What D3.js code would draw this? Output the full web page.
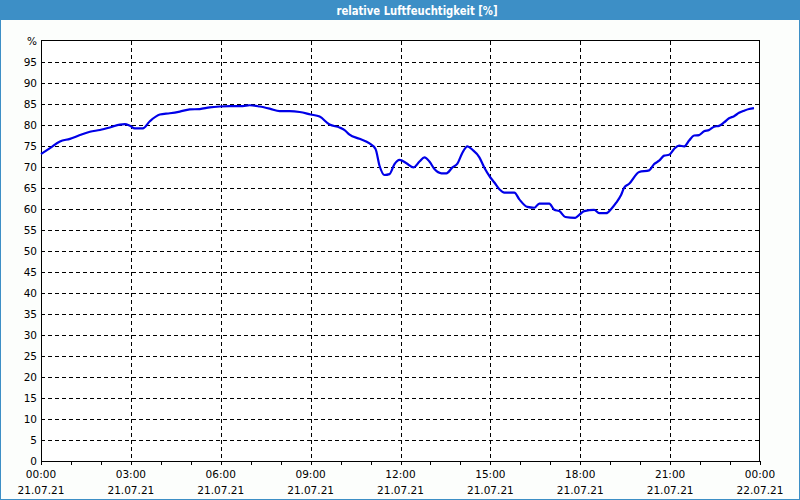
<!DOCTYPE html>
<html><head><meta charset="utf-8">
<script src="https://cdn.jsdelivr.net/npm/d3@7"></script>
<style>
html,body{margin:0;padding:0;background:#fff;}
svg{display:block;}
text{font-family:"DejaVu Sans",Verdana,sans-serif;}
</style></head>
<body><svg id="c" width="800" height="500"></svg>
<script>
const title = "relative Luftfeuchtigkeit [%]";
const times = ["00:00","00:18","00:38","00:58","01:18","01:38","01:58","02:18","02:38","02:48","02:58","03:08","03:24","03:38","03:58","04:18","04:38","04:58","05:18","05:38","05:58","06:18","06:44","06:58","07:18","07:38","07:58","08:18","08:38","09:00","09:18","09:38","09:58","10:08","10:18","10:38","10:58","11:10","11:18","11:28","11:38","11:48","11:58","12:12","12:26","12:38","12:48","12:58","13:08","13:22","13:32","13:44","13:54","14:04","14:14","14:24","14:38","14:48","15:00","15:08","15:18","15:28","15:48","15:58","16:14","16:28","16:38","16:58","17:08","17:18","17:30","17:50","17:58","18:08","18:28","18:38","18:52","19:02","19:12","19:22","19:28","19:38","19:58","20:18","20:28","20:38","20:48","20:58","21:08","21:18","21:28","21:38","21:48","21:58","22:08","22:18","22:28","22:38","22:48","22:58","23:08","23:18","23:28","23:38","23:48"];
const humidity = [73.1,74.5,76.1,76.7,77.6,78.4,78.8,79.4,80.1,80.2,79.8,79.2,79.2,80.9,82.5,82.8,83.2,83.7,83.8,84.2,84.4,84.5,84.5,84.7,84.4,83.9,83.3,83.3,83.1,82.5,82.0,80.1,79.4,78.8,77.7,76.7,75.6,74.3,70.3,68.1,68.3,70.7,71.7,70.9,69.9,71.3,72.3,71.3,69.5,68.5,68.5,69.9,70.8,73.4,74.9,74.1,72.3,69.8,67.5,66.3,64.7,63.9,63.9,62.3,60.5,60.3,61.3,61.3,59.8,59.5,58.1,57.9,58.6,59.5,59.8,59.0,59.0,60.0,61.5,63.4,65.1,66.0,68.8,69.2,70.7,71.5,72.7,72.9,74.3,75.1,74.9,76.3,77.5,77.6,78.5,78.8,79.6,79.8,80.6,81.6,82.1,82.9,83.4,83.8,84.0];
const yTicks = [0,5,10,15,20,25,30,35,40,45,50,55,60,65,70,75,80,85,90,95];
const yUnit = "%";
const xTickTimes = ["00:00","03:00","06:00","09:00","12:00","15:00","18:00","21:00","00:00"];
const xTickDates = ["21.07.21","21.07.21","21.07.21","21.07.21","21.07.21","21.07.21","21.07.21","21.07.21","22.07.21"];

const W=800,H=500;
const svg=d3.select("#c");
const blue="#3d8fc6";
const fs="10.5px";
svg.append("rect").attr("x",0).attr("y",0).attr("width",W).attr("height",H).attr("fill","#fcfefc");
svg.append("rect").attr("x",0.5).attr("y",0.5).attr("width",W-1).attr("height",H-1).attr("fill","none").attr("stroke",blue);
svg.append("rect").attr("x",0).attr("y",0).attr("width",W).attr("height",20).attr("fill",blue);
svg.append("text").attr("x",417).attr("y",14.5).attr("text-anchor","middle").attr("fill","#fff")
  .attr("textLength",161).attr("lengthAdjust","spacingAndGlyphs")
  .style("font-family","'DejaVu Sans Condensed','DejaVu Sans',sans-serif").style("font-weight","bold").style("font-size","12px").text(title);

const L=41,R=760,T=41,B=461;
const parse=d3.timeParse("%Y-%m-%d %H:%M");
const t0=parse("2021-07-21 00:00"), t1=parse("2021-07-22 00:00");
const x=d3.scaleTime().domain([t0,t1]).range([L,R]);
const y=d3.scaleLinear().domain([0,100]).range([B,T]);
const data=times.map((t,i)=>({t:parse("2021-07-21 "+t),v:humidity[i]}));

svg.append("rect").attr("x",L).attr("y",T-1).attr("width",R-L).attr("height",B-T+1).attr("fill","#fff");

// horizontal grid
svg.append("g").selectAll("line").data(yTicks.filter(d=>d>0)).join("line")
  .attr("x1",L).attr("x2",R).attr("y1",d=>Math.round(y(d))+0.5).attr("y2",d=>Math.round(y(d))+0.5)
  .attr("stroke","#000").attr("stroke-dasharray","4,3").attr("shape-rendering","crispEdges");
// vertical grid
const majors=d3.range(1,8).map(i=>d3.timeHour.offset(t0,i*3));
svg.append("g").selectAll("line").data(majors).join("line")
  .attr("x1",d=>Math.round(x(d))+0.5).attr("x2",d=>Math.round(x(d))+0.5).attr("y1",T).attr("y2",B)
  .attr("stroke","#000").attr("stroke-dasharray","4,3").attr("shape-rendering","crispEdges");

// axes
const hours=d3.timeHour.range(t0,d3.timeHour.offset(t1,1));
const xAxis=d3.axisBottom(x).tickValues(hours).tickSize(4).tickFormat("");
const gx=svg.append("g").attr("transform",`translate(0,${B})`).call(xAxis);
gx.select(".domain").remove();
gx.selectAll(".tick line").attr("stroke","#000").attr("shape-rendering","crispEdges");
const yAxis=d3.axisLeft(y).tickValues(yTicks).tickSize(0).tickPadding(4).tickFormat(d=>d);
const gy=svg.append("g").attr("transform",`translate(${L},0)`).call(yAxis);
gy.select(".domain").remove();
gy.selectAll("text").style("font-size",fs).attr("fill","#000").attr("dy","0.35em");
svg.append("text").attr("x",L-4).attr("y",y(100)+4).attr("text-anchor","end").style("font-size",fs).text(yUnit);

// x labels
const xl=svg.append("g");
xTickTimes.forEach((s,i)=>{
  const xx=x(d3.timeHour.offset(t0,i*3));
  xl.append("text").attr("x",xx).attr("y",478).attr("text-anchor","middle").style("font-size",fs).text(s);
  xl.append("text").attr("x",xx).attr("y",494).attr("text-anchor","middle").style("font-size",fs).text(xTickDates[i]);
});

// frame
svg.append("rect").attr("x",L+0.5).attr("y",T-0.5).attr("width",R-L-1).attr("height",B-T+1)
  .attr("fill","none").attr("stroke","#000").attr("shape-rendering","crispEdges");

// line
const line=d3.line().x(d=>x(d.t)).y(d=>y(d.v)).curve(d3.curveMonotoneX);
svg.append("path").datum(data).attr("d",line).attr("fill","none").attr("stroke","#0000e8").attr("stroke-width",2.2);
</script></body></html>
